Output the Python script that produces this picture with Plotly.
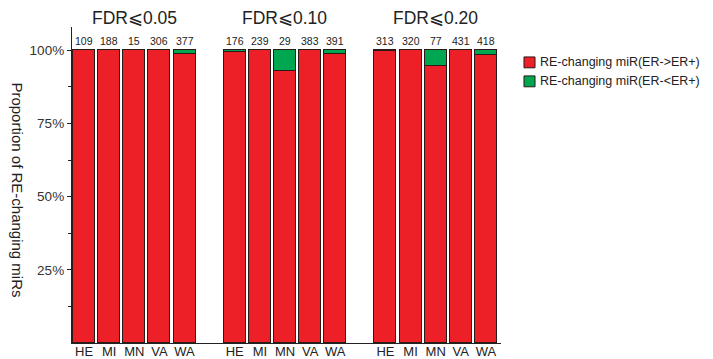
import plotly.graph_objects as go

categories = ["HE", "MI", "MN", "VA", "WA"]
groups = ["FDR⩽0.05", "FDR⩽0.10", "FDR⩽0.20"]
totals = [
    [109, 188, 15, 306, 377],
    [176, 239, 29, 383, 391],
    [313, 320, 77, 431, 418],
]
down_counts = [
    [0, 0, 0, 0, 5],
    [1, 0, 2, 0, 5],
    [1, 0, 4, 0, 6],
]
series_names = ["RE-changing miR(ER->ER+)", "RE-changing miR(ER-<ER+)"]
colors = ["#ED1F27", "#00A650"]
ytick_vals = [0.25, 0.5, 0.75, 1.0]
ytick_text = ["25%", "50%", "75%", "100%"]

FONT = "Liberation Sans, Arial, sans-serif"

xs, labels, up, down, tot = [], [], [], [], []
for g in range(len(groups)):
    for i, c in enumerate(categories):
        xs.append(g * 6 + i)
        labels.append(c)
        t = totals[g][i]
        d = down_counts[g][i]
        up.append((t - d) / t)
        down.append(d / t)
        tot.append(t)

fig = go.Figure()
fig.add_trace(go.Bar(x=xs, y=up, name=series_names[0], width=0.875,
                     marker=dict(color=colors[0], line=dict(color="#2a1a1a", width=1.3)),
                     showlegend=False))
fig.add_trace(go.Bar(x=xs, y=down, name=series_names[1], width=0.875,
                     marker=dict(color=colors[1], line=dict(color="#2a1a1a", width=1.3)),
                     showlegend=False))

ann = []
for x, t in zip(xs, tot):
    ann.append(dict(x=x, y=1.0, xref="x", yref="y", text=str(t), showarrow=False,
                    yanchor="bottom", yshift=1, font=dict(size=10.5, color="#222", family=FONT)))
for g, name in enumerate(groups):
    ann.append(dict(x=g * 6 + 2, y=1.0, xref="x", yref="paper", text=name, showarrow=False,
                    yanchor="middle", yshift=9, font=dict(size=17.5, color="#222", family=FONT)))
ann.append(dict(x=-0.126, y=0.483, xref="paper", yref="paper", text="Proportion of RE-changing miRs",
                showarrow=False, textangle=90, xanchor="center", yanchor="middle",
                font=dict(size=15, color="#222", family=FONT)))

# legend drawn manually
shapes = []
leg_y = [0.888, 0.828]
for k in range(2):
    ann.append(dict(x=1.0932, y=leg_y[k], xref="paper", yref="paper", text=series_names[k],
                    showarrow=False, xanchor="left", yanchor="middle", xshift=-3,
                    font=dict(size=12.5, color="#222", family=FONT)))
    shapes.append(dict(type="rect", xref="paper", yref="paper",
                       x0=1.0536, x1=1.0793, y0=leg_y[k] - 0.0172, y1=leg_y[k] + 0.0172,
                       fillcolor=colors[k], line=dict(color="#2a1a1a", width=1)))

fig.update_layout(
    barmode="stack",
    width=713, height=359,
    margin=dict(l=64, r=220, t=19, b=8),
    plot_bgcolor="white", paper_bgcolor="white",
    annotations=ann, shapes=shapes,
    xaxis=dict(range=[-0.48, 16.6], tickmode="array", tickvals=xs, ticktext=labels,
               showline=True, linecolor="#222", linewidth=1.3, ticks="", showgrid=False,
               zeroline=False, ticklabelstandoff=-4,
               tickfont=dict(size=13, color="#222", family=FONT)),
    yaxis=dict(range=[0, 1.08], tickmode="array", tickvals=ytick_vals, ticktext=ytick_text,
               showline=True, linecolor="#222", linewidth=1.3, ticks="outside", ticklen=4,
               tickcolor="#222", showgrid=False, zeroline=False,
               minor=dict(tickvals=[0.125, 0.375, 0.625, 0.875], ticks="outside", ticklen=3,
                          tickcolor="#222"),
               tickfont=dict(size=13.5, color="#333", family=FONT)),
    bargap=0,
)

fig.write_html("out.html")
